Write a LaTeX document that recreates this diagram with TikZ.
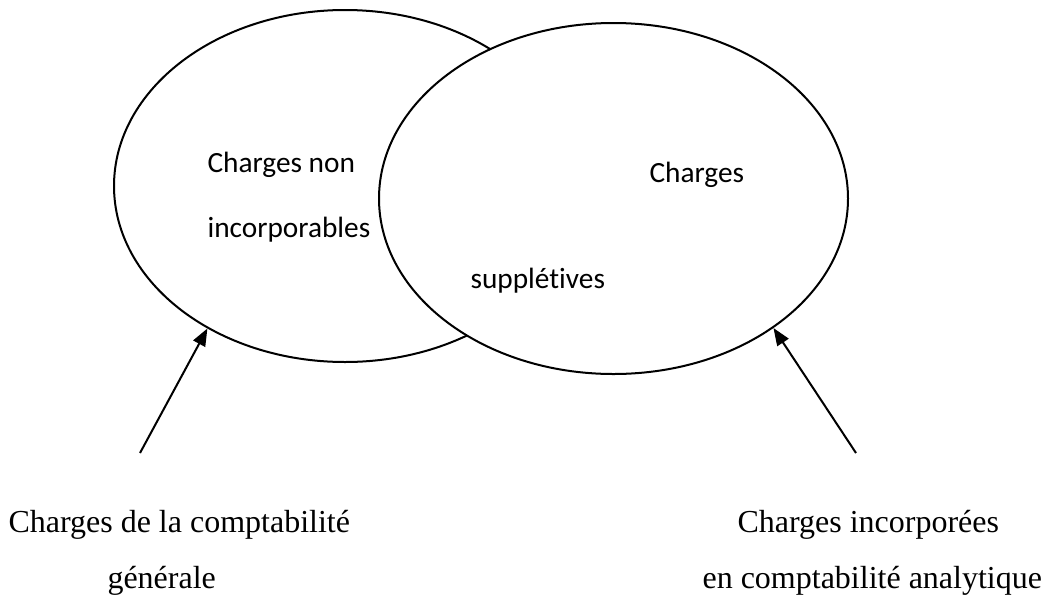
\documentclass[tikz,border=0pt]{standalone}
\usepackage{fontspec}
\setmainfont{Liberation Serif}
\newfontfamily\calibri[Ligatures=NoCommon]{Carlito}
\usetikzlibrary{arrows.meta,shapes.geometric}
\begin{document}
\begin{tikzpicture}[x=0.375pt,y=-0.375pt,
  ell/.style={draw,line width=0.75pt,fill=white,ellipse,inner sep=0pt},
  lbl/.style={anchor=base west,inner sep=0pt,font=\calibri\fontsize{11}{13}\selectfont},
  captext/.style={anchor=base west,inner sep=0pt,font=\fontsize{12}{14}\selectfont},
  arr/.style={line width=0.75pt,-{Triangle[length=6.5pt,width=5pt]}}]
\useasboundingbox (0,0) rectangle (1042,597);
\node[ell,minimum width=173.25pt,minimum height=132pt] (L) at (345,186) {};
\node[ell,minimum width=175.875pt,minimum height=131.625pt] (R) at (613.5,198.5) {};
\node[lbl] (t1) at (207,172) {Charges non};
\node[lbl] (t2) at (207,237) {incorporables};
\node[lbl] (t3) at (649,182) {Charges};
\node[lbl] (t4) at (470,288) {supplétives};
\node[captext] (b1) at (8,532) {Charges de la comptabilité};
\node[captext] (b2) at (107,588) {générale};
\node[captext] (b3) at (737,532) {Charges incorporées};
\node[captext] (b4) at (702,588) {en comptabilité analytique};
\coordinate (s1) at (140,453);
\coordinate (s2) at (856,453);
\draw[arr] (s1) -- (L.226.9);
\draw[arr] (s2) -- (R.321.6);
\end{tikzpicture}
\end{document}
